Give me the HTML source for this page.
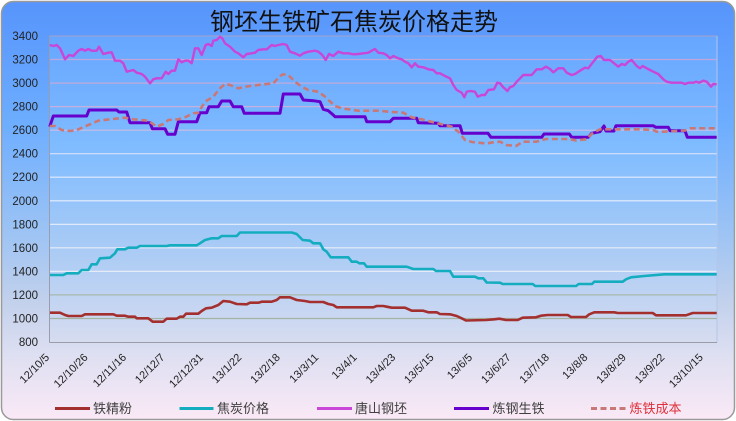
<!DOCTYPE html>
<html><head><meta charset="utf-8"><style>
html,body{margin:0;padding:0;background:#fff;}
svg{display:block;}
</style></head><body>
<svg width="736" height="421" viewBox="0 0 736 421" xmlns="http://www.w3.org/2000/svg">
<defs>
<linearGradient id="bg" x1="0" y1="0" x2="0" y2="421" gradientUnits="userSpaceOnUse">
<stop offset="0" stop-color="#5694fc"/>
<stop offset="0.3" stop-color="#6eaeff"/>
<stop offset="0.55" stop-color="#9cc3f4"/>
<stop offset="0.72" stop-color="#c3d1ec"/>
<stop offset="0.85" stop-color="#dfe0f2"/>
<stop offset="1" stop-color="#fbe9f6"/>
</linearGradient>
<linearGradient id="pa" x1="0" y1="36" x2="0" y2="342" gradientUnits="userSpaceOnUse">
<stop offset="0" stop-color="#66a6ff"/>
<stop offset="0.37" stop-color="#80bcff"/>
<stop offset="0.7" stop-color="#aacbf5"/>
<stop offset="1" stop-color="#d6dcf0"/>
</linearGradient>
</defs>
<rect x="1.5" y="1.5" width="733" height="418" rx="12" ry="12" fill="url(#bg)" stroke="#9a9a9a" stroke-width="1.5"/>
<rect x="49.5" y="36" width="667.5" height="306" fill="url(#pa)"/>
<!-- gridlines -->
<g stroke-width="1.2" fill="none">
<line x1="49.5" x2="717" y1="59.5" y2="59.5" stroke="#c0a6dc"/>
<line x1="49.5" x2="717" y1="83.1" y2="83.1" stroke="#c2a8dc"/>
<line x1="49.5" x2="717" y1="106.6" y2="106.6" stroke="#c6b0e0"/>
<line x1="49.5" x2="717" y1="130.2" y2="130.2" stroke="#ccbce6"/>
<line x1="49.5" x2="717" y1="153.7" y2="153.7" stroke="#d8e0fa"/>
<line x1="49.5" x2="717" y1="177.2" y2="177.2" stroke="#e4ecfc"/>
<line x1="49.5" x2="717" y1="200.8" y2="200.8" stroke="#e8eefc"/>
<line x1="49.5" x2="717" y1="224.3" y2="224.3" stroke="#e8eefa"/>
<line x1="49.5" x2="717" y1="247.8" y2="247.8" stroke="#e8eef8"/>
<line x1="49.5" x2="717" y1="271.4" y2="271.4" stroke="#e6ecf6"/>
<line x1="49.5" x2="717" y1="294.9" y2="294.9" stroke="#a8b8ae"/>
<line x1="49.5" x2="717" y1="318.5" y2="318.5" stroke="#a4b4a4"/>
</g>
<!-- plot border -->
<line x1="49.5" x2="717" y1="36" y2="36" stroke="#a4a0cc" stroke-width="1"/>
<line x1="717" x2="717" y1="36" y2="342.5" stroke="#b4c6e8" stroke-width="1"/>
<line x1="49.5" x2="49.5" y1="36" y2="342.5" stroke="#9a9cb0" stroke-width="1"/>
<line x1="49.5" x2="717" y1="342.5" y2="342.5" stroke="#9c9ca6" stroke-width="1"/>

<!-- series -->
<g fill="none" stroke-linejoin="round" stroke-linecap="butt">
<polyline stroke="#a3302e" stroke-width="2.6" points="50,312.7 60,312.7 65,315 68.3,316 81.7,316 85,314.3 113.3,314.3 116.7,315.7 125,315.7 128.3,316.7 135,316.7 136.7,318.3 148.3,318.3 152.7,321.7 163.3,321.7 166.7,318.7 176.7,318.7 180,316.7 183.3,316.7 186,313.7 198.3,313.7 201.7,311 206,308.3 211.7,307.7 218.3,305 223.3,301 230,301.7 236.7,304 246.7,304.3 250,302.7 258.3,302.7 261.7,301.7 271.7,301.7 276.7,300 280,297.3 290,297.3 296.7,300 305,301 310,302 323.3,302 328.3,304 333.3,305 336.7,307.3 373.3,307.3 376.7,306 383.3,306 386.7,306.7 391.7,307.7 405,307.7 411.7,310.7 423.3,310.7 428.3,312.3 436.7,312.3 440,314 450,314.3 456.7,316 461.7,318.3 466,320.5 486,320 494.3,319.3 499.3,318.7 506,320 517.7,320 522.7,317.7 536,317.3 541,315.7 547.7,315 567.7,315 571,317 586,317 589.3,314.3 594.3,312.3 614.3,312.3 617.7,313 652.7,313 656,315.3 686,315.3 692.7,313 716.7,313"/>
<polyline stroke="#14adc0" stroke-width="2.6" points="50,275 63.3,275 66.7,273.3 78.3,273.3 81.7,270 88.3,270 91.7,264.3 96.7,264.3 100,258.3 110,257.7 115,253.3 117.3,249.3 125,249.3 128.3,247.7 136.7,247.7 140,246 166.7,246 170,245.3 196.7,245.3 200,243.3 205,240 211.7,238.3 218.3,238.3 221.7,236 236.7,236 240,232.5 291.7,232.5 296.7,234 302.7,240 310,240.7 313.3,243.3 320,243.3 323.3,249.3 326.7,251.7 330.7,257.3 348.3,257.3 351.7,261.7 356.7,261.7 359.3,263.3 364,263.3 366.7,266.7 406.7,266.7 413.3,269 433.3,269 436,271 450,271 453.3,276.7 475,276.7 478.3,278.3 483.3,278.3 486.7,282.5 500,282.7 502.7,284 532.7,284 535.3,286 576,286 578.7,284 592,284 594.3,281.7 622.7,281.7 626,279.3 631,277.3 644.3,276 664.3,274.3 716.7,274.3"/>
<polyline stroke="#c946d8" stroke-width="2.4" points="49.7,45 53.3,46 56.7,45 60,48.3 65,59.3 69,55 73.3,56 78.3,50.7 81.7,49 85,50.7 88.3,49 91.7,50.7 96.7,50.7 99,46.7 103.3,54 108.3,52.7 111.7,52.3 115,60.7 120,60.7 123.3,63.3 126.7,71.7 133.3,70 136.7,72.7 141.7,74 145,76.7 150,83.3 153.3,79.3 156.7,78.3 161.7,78.3 165.7,71.7 168.3,74 171.7,70.7 175,70.7 178.3,59.3 181.7,62.3 185,60.7 188.3,60.7 191.7,63.3 195,48.3 198.3,48.3 201.7,55 205.7,45 208.3,44 211.7,46 213.3,40.7 216.7,40 220,36.7 222.3,38.3 225,43.3 230,46.7 235,51.7 238.3,53.3 243.3,57.3 246.7,54 251.7,53.3 255,52.7 258.3,50 263.3,49.3 266.7,49.3 271.7,45 275,46 278.3,45 283.3,44 286.7,45 290,51.7 295,53.3 300,55.7 303.3,53.3 308.3,51.7 315,50.7 318.3,51.7 322.3,55 325.7,60 329,54 333.3,56 338.3,51.7 343.3,53.3 348.3,53.3 353.3,54.3 358.3,54 363.3,53.3 368.3,52.7 371.7,50.7 375,49 378.3,52.7 383.3,53.3 386.7,55 390,58.3 393.3,56 398.3,58.3 401.7,59.3 405,61.7 408.3,63.3 411.7,67.3 415,63.3 418.3,66.7 423.3,67.3 428.3,69.3 433.3,70 436.7,73.3 440,73.3 445,76 450,78.3 453.3,85 456.7,90 461.7,92.7 464.3,97.3 466.7,91.7 470,91 475,91.7 477.7,96.7 481.7,95 485,95 488.3,90 494,89.3 497.3,82.7 500,83.3 503.3,87.3 507.3,91 510,87.3 513.3,86 516.7,81.7 521.7,76.7 523.3,75 531.7,75 536.7,69.3 541.7,69.3 546,66.7 550,69 553.3,72.3 558.3,68.3 563.3,68.3 566.7,72.7 571.7,75 575,74 580,70.7 585,67.7 588.3,68.3 593.3,61.7 597.3,56.7 600.7,56 604,60 610,60 613.3,62.7 618.3,66.7 621.7,64 625,65 628.3,61.7 631.7,60 636.7,66 640,68.3 642.7,66 646.7,68.3 650,70 653.3,71.7 658.3,74 663.3,79.3 666.7,81.7 671.7,82.7 681.7,82.7 685,84 688.3,82.7 693.3,82.7 696,81.7 699.3,82.7 703.3,80.7 706.7,81.7 711,86.7 713.3,84 716.7,84.3"/>
<polyline stroke="#6600cc" stroke-width="3" points="49.7,126.7 53.3,116 86.7,116 89,110 116.7,110 119,112 126.7,112 130,122.7 150,122.7 152.3,128.7 165,128.7 167.7,134.3 175,134.3 178.3,121.7 196.7,121.7 200,112.7 206.7,112.7 209,106.7 218.3,106.7 221.7,101 230,101 233.3,106.7 241.7,106.7 244.3,113.3 280,113.3 283.3,94 300,94 303.3,100 313.3,100.7 320,101.7 323.3,109.3 328.3,110.7 333.3,115 335,116.7 365,116.7 366.7,121.7 390,121.7 393.3,118.3 416.7,118.3 418.3,122.7 438.3,123.3 440,125.7 460,125.7 462.3,133.3 488,133.3 491,137.3 541.7,137.3 544,134 569.3,134 571.7,137.3 588.3,137.3 591.7,133.3 600,131.7 604,126 606,131 614,131 616,125.7 653.3,125.7 655.7,127.3 668.3,127.3 670,130.7 685,130.7 687.3,137.3 716.7,137.3"/>
<polyline stroke="#c97878" stroke-width="2.6" stroke-dasharray="6,3.5" points="49.7,126 55,126 61.7,130 70,131 76.7,130 88.3,125 98.3,120.7 110,119.3 125,117.7 133.3,119.3 148.3,120.7 156.7,126.7 163.3,124 168.3,120 178.3,119.3 185,117.3 193.3,113.3 198.3,112.7 205,101.7 213.3,96.7 220,88.3 225,84 230,85 238.3,88.3 245,86.7 258.3,85 273.3,83.3 280,76 283.3,74.3 288.3,75 295,81.7 301.7,86.7 308.3,90 318.3,91.7 325,96.7 335,106 341.7,108.3 358.3,110.7 378.3,110.7 388.3,111.7 403.3,112.7 411.7,117.3 421.7,119.3 435,122.7 445,125 451.7,126.7 458.3,131.7 465,140 472,142 486,143.5 495,142 500,141.7 506,145 516,146 522.7,141.7 536,141.7 546,139 569.3,139 576,140.5 586,139.3 592.7,133 600,129.3 640,129.3 653.3,130 656.7,131.7 663.3,131.7 685,130.5 690,128.3 716.7,128.3"/>
</g>

<!-- title -->
<text x="354" y="30" text-anchor="middle" font-family="'Liberation Sans','Noto Sans CJK SC',sans-serif" font-size="24" fill="#111">钢坯生铁矿石焦炭价格走势</text>

<!-- y labels -->
<g font-family="'Liberation Sans',sans-serif" font-size="11.5" fill="#222" text-anchor="end">
<text x="38" y="40">3400</text>
<text x="38" y="63.5">3200</text>
<text x="38" y="87.1">3000</text>
<text x="38" y="110.6">2800</text>
<text x="38" y="134.2">2600</text>
<text x="38" y="157.7">2400</text>
<text x="38" y="181.2">2200</text>
<text x="38" y="204.8">2000</text>
<text x="38" y="228.3">1800</text>
<text x="38" y="251.8">1600</text>
<text x="38" y="275.4">1400</text>
<text x="38" y="298.9">1200</text>
<text x="38" y="322.5">1000</text>
<text x="38" y="346">800</text>
</g>

<!-- x labels -->
<g font-family="'Liberation Sans',sans-serif" font-size="11" fill="#222" text-anchor="end">
<text transform="translate(50,358) rotate(-45)">12/10/5</text>
<text transform="translate(88.45,358) rotate(-45)">12/10/26</text>
<text transform="translate(126.9,358) rotate(-45)">12/11/16</text>
<text transform="translate(165.35,358) rotate(-45)">12/12/7</text>
<text transform="translate(203.8,358) rotate(-45)">12/12/31</text>
<text transform="translate(242.25,358) rotate(-45)">13/1/22</text>
<text transform="translate(280.7,358) rotate(-45)">13/2/18</text>
<text transform="translate(319.15,358) rotate(-45)">13/3/11</text>
<text transform="translate(357.6,358) rotate(-45)">13/4/1</text>
<text transform="translate(396.05,358) rotate(-45)">13/4/23</text>
<text transform="translate(434.5,358) rotate(-45)">13/5/15</text>
<text transform="translate(472.95,358) rotate(-45)">13/6/5</text>
<text transform="translate(511.4,358) rotate(-45)">13/6/27</text>
<text transform="translate(549.85,358) rotate(-45)">13/7/18</text>
<text transform="translate(588.3,358) rotate(-45)">13/8/8</text>
<text transform="translate(626.75,358) rotate(-45)">13/8/29</text>
<text transform="translate(665.2,358) rotate(-45)">13/9/22</text>
<text transform="translate(703.65,358) rotate(-45)">13/10/15</text>
</g>

<!-- legend -->
<g stroke-width="3" fill="none">
<line x1="55" x2="90" y1="408.5" y2="408.5" stroke="#a3302e"/>
<line x1="179.5" x2="213.5" y1="408.5" y2="408.5" stroke="#14adc0"/>
<line x1="317" x2="352" y1="408.5" y2="408.5" stroke="#c946d8"/>
<line x1="454" x2="489" y1="408.5" y2="408.5" stroke="#6600cc"/>
<line x1="591" x2="627" y1="408.5" y2="408.5" stroke="#c97878" stroke-dasharray="6,3.5"/>
</g>
<g font-family="'Liberation Sans','Noto Sans CJK SC',sans-serif" font-size="13" fill="#404040">
<text x="93" y="413">铁精粉</text>
<text x="217" y="413">焦炭价格</text>
<text x="355" y="413">唐山钢坯</text>
<text x="492.5" y="413">炼钢生铁</text>
<text x="629.5" y="413" fill="#e0303a">炼铁成本</text>
</g>
</svg>
</body></html>
